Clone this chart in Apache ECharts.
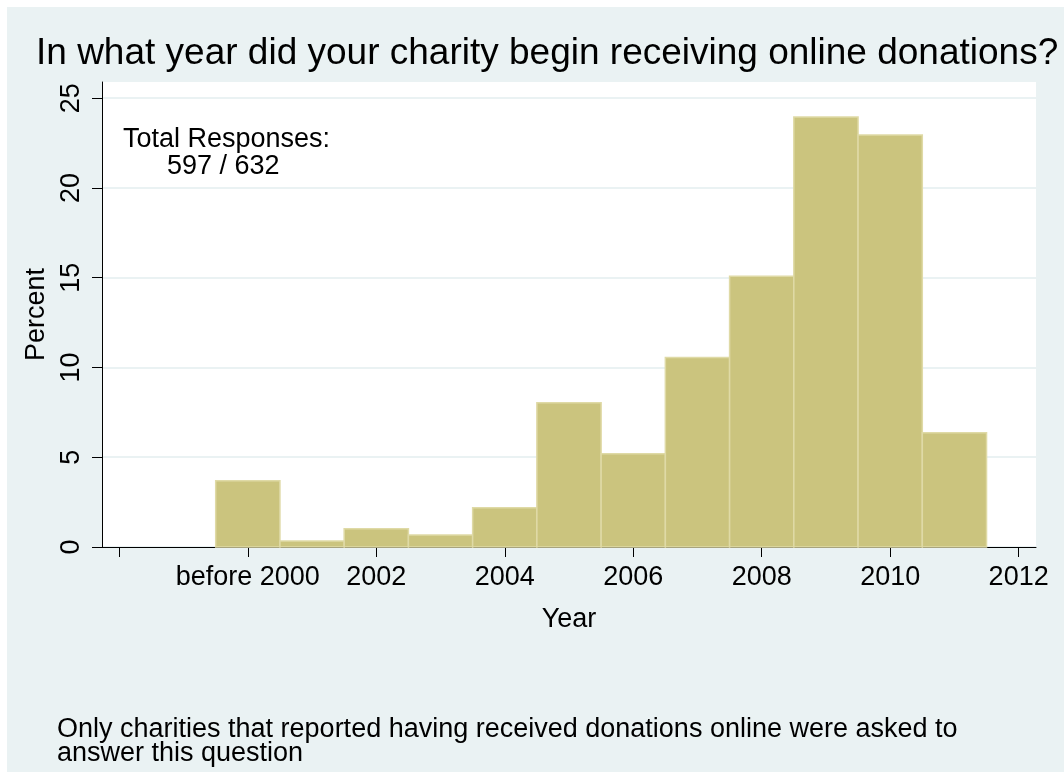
<!DOCTYPE html>
<html>
<head>
<meta charset="utf-8">
<script src="https://cdn.jsdelivr.net/npm/echarts@6/dist/echarts.min.js"></script>
<style>
  html, body { margin: 0; padding: 0; background: #fff; }
  #chart { position: absolute; left: 7px; top: 7px; width: 1057px; height: 765px; background: #eaf2f3; }
</style>
</head>
<body>
<div id="chart"></div>
<script>
// histogram bins (centred on year), percent of responses
const years = [2000, 2001, 2002, 2003, 2004, 2005, 2006, 2007, 2008, 2009, 2010, 2011]
const percents = [3.69, 0.34, 1.01, 0.67, 2.18, 8.04, 5.19, 10.55, 15.08, 23.95, 22.95, 6.37]
// x axis ticks and their labels
const xTicks = [1998, 2000, 2002, 2004, 2006, 2008, 2010, 2012]
const xTickLabels = ['', 'before 2000', '2002', '2004', '2006', '2008', '2010', '2012']
const yTicks = [0, 5, 10, 15, 20, 25]

const font = 'Liberation Sans, Arial, Helvetica, sans-serif'
const chart = echarts.init(document.getElementById('chart'))

chart.setOption({
  backgroundColor: '#eaf2f3',
  textStyle: { fontFamily: font, color: '#000' },
  title: [
    {
      text: 'In what year did your charity begin receiving online donations?',
      left: 24,
      top: 23,
      textStyle: { fontFamily: font, fontSize: 37, fontWeight: 'normal', color: '#000' }
    },
    {
      text: 'Total Responses:',
      left: 111,
      top: 114,
      textStyle: { fontFamily: font, fontSize: 27, fontWeight: 'normal', color: '#000' }
    },
    {
      text: '597 / 632',
      left: 155,
      top: 141,
      textStyle: { fontFamily: font, fontSize: 27, fontWeight: 'normal', color: '#000' }
    },
    {
      text: 'Only charities that reported having received donations online were asked to\nanswer this question',
      left: 45,
      top: 706,
      textStyle: { fontFamily: font, fontSize: 27, fontWeight: 'normal', color: '#000', lineHeight: 24 }
    }
  ],
  grid: {
    left: 95,
    top: 75,
    right: 28,
    bottom: 225,
    show: true,
    backgroundColor: '#fff',
    borderWidth: 0
  },
  xAxis: {
    type: 'value',
    min: 1997.73,
    max: 2012.27,
    name: 'Year',
    nameLocation: 'middle',
    nameGap: 59,
    nameTextStyle: { fontFamily: font, fontSize: 27, color: '#000' },
    axisLine: { lineStyle: { color: '#000', width: 1 } },
    axisTick: { show: true, length: 10, customValues: xTicks, lineStyle: { color: '#000' } },
    axisLabel: {
      customValues: xTicks,
      margin: 17,
      fontFamily: font,
      fontSize: 27,
      color: '#000',
      formatter: function (v) {
        const i = xTicks.indexOf(v)
        return i >= 0 ? xTickLabels[i] : ''
      }
    },
    splitLine: { show: false }
  },
  yAxis: {
    type: 'value',
    min: 0,
    max: 25.9,
    name: 'Percent',
    nameLocation: 'middle',
    nameGap: 52,
    nameTextStyle: { fontFamily: font, fontSize: 27, color: '#000' },
    axisLine: { show: true, lineStyle: { color: '#000', width: 1 } },
    axisTick: { show: true, length: 10, customValues: yTicks, lineStyle: { color: '#000' } },
    axisLabel: {
      customValues: yTicks,
      rotate: 90,
      margin: 17,
      fontFamily: font,
      fontSize: 27,
      color: '#000'
    },
    splitLine: { show: true, lineStyle: { color: '#eaf2f3', width: 2 } }
  },
  series: [
    {
      type: 'custom',
      // 每个柱子宽度为一年
      renderItem: function (params, api) {
        const x = api.value(0)
        const y = api.value(1)
        const p0 = api.coord([x - 0.5, y])
        const p1 = api.coord([x + 0.5, 0])
        return {
          type: 'rect',
          shape: { x: p0[0], y: p0[1], width: p1[0] - p0[0], height: p1[1] - p0[1] },
          style: { fill: '#cbc47e', stroke: '#dfdaa6', lineWidth: 1.5 }
        }
      },
      encode: { x: 0, y: 1 },
      data: years.map(function (y, i) { return [y, percents[i]] })
    }
  ]
})
</script>
</body>
</html>
